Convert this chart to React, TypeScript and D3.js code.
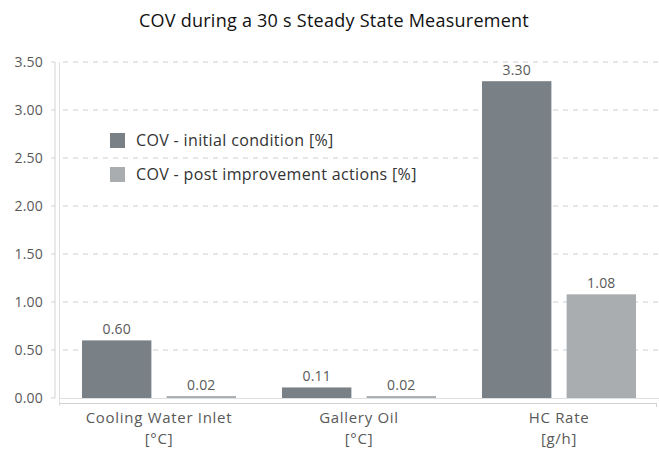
import React from "react";
import * as d3 from "d3";

const categories = ["Cooling Water Inlet|[°C]", "Gallery Oil|[°C]", "HC Rate|[g/h]"];
const seriesNames = ["COV - initial condition [%]", "COV - post improvement actions [%]"];
const initialValues = [0.6, 0.11, 3.3];
const postValues = [0.02, 0.02, 1.08];
const yTicks = [0, 0.5, 1, 1.5, 2, 2.5, 3, 3.5];

const W = 659;
const H = 451;
const left = 59;
const right = 659;
const top = 62;
const bottom = 398;
const colors = ["#798086", "#aaadb0"];
const FONT = "'Open Sans', Lato, sans-serif";

export default function App() {
  const x = d3.scaleBand<string>().domain(categories).range([left, right]).paddingInner(0).paddingOuter(0);
  const x1 = d3.scaleBand<number>().domain([0, 1]).range([23, 200 - 23]).paddingInner(0.18);
  const y = d3.scaleLinear().domain([0, 3.5]).range([bottom, top]);
  const series = [initialValues, postValues];

  return (
    <svg width={W} height={H} style={{ position: "absolute", left: 0, top: 0, background: "#fff" }} fontFamily={FONT}>
      <text x={334} y={27} textAnchor="middle" fontSize={18} letterSpacing={0.25} fill="#111">
        COV during a 30 s Steady State Measurement
      </text>
      {yTicks.map((t) => (
        <g key={t}>
          {t > 0 && (
            <line x1={63} x2={right} y1={y(t)} y2={y(t)} stroke="#c9cdd1" strokeDasharray="5,5" strokeWidth={1} />
          )}
          <line x1={51} x2={55} y1={y(t)} y2={y(t)} stroke="#cfd3d7" />
          <text x={43} y={y(t)} dy="0.35em" textAnchor="end" fontSize={14} letterSpacing={0.2} fill="#595959">
            {t.toFixed(2)}
          </text>
        </g>
      ))}
      <line x1={55} x2={55} y1={y(3.5)} y2={y(0)} stroke="#cfd3d7" />
      <line x1={59.5} x2={59.5} y1={y(3.5)} y2={406} stroke="#dde0e3" />
      <line x1={59} x2={right} y1={bottom + 0.5} y2={bottom + 0.5} stroke="#dde0e3" />
      <line x1={59} x2={657} y1={403.5} y2={403.5} stroke="#cfd3d7" />
      <line x1={656.5} x2={656.5} y1={403} y2={407} stroke="#cfd3d7" />

      {categories.map((c, i) => (
        <g key={c} transform={`translate(${x(c)},0)`}>
          {series.map((vals, s) => (
            <g key={s}>
              <rect
                x={x1(s)}
                width={x1.bandwidth()}
                y={y(vals[i])}
                height={y(0) - y(vals[i])}
                fill={colors[s]}
              />
              <text
                x={(x1(s) as number) + x1.bandwidth() / 2}
                y={y(vals[i]) - 6}
                textAnchor="middle"
                fontSize={14}
                letterSpacing={0.2}
                fill="#595959"
              >
                {vals[i].toFixed(2)}
              </text>
            </g>
          ))}
          {c.split("|").map((line, k) => (
            <text
              key={k}
              x={x.bandwidth() / 2}
              y={423 + k * 20.5}
              textAnchor="middle"
              fontSize={15}
              letterSpacing={0.7}
              fill="#595959"
            >
              {line}
            </text>
          ))}
        </g>
      ))}

      {seriesNames.map((n, s) => (
        <g key={n} transform={`translate(110,${133 + s * 34})`}>
          <rect width={15} height={15} fill={colors[s]} />
          <text x={26} y={13} fontSize={16} letterSpacing={0.35} fill="#333">
            {n}
          </text>
        </g>
      ))}
    </svg>
  );
}
